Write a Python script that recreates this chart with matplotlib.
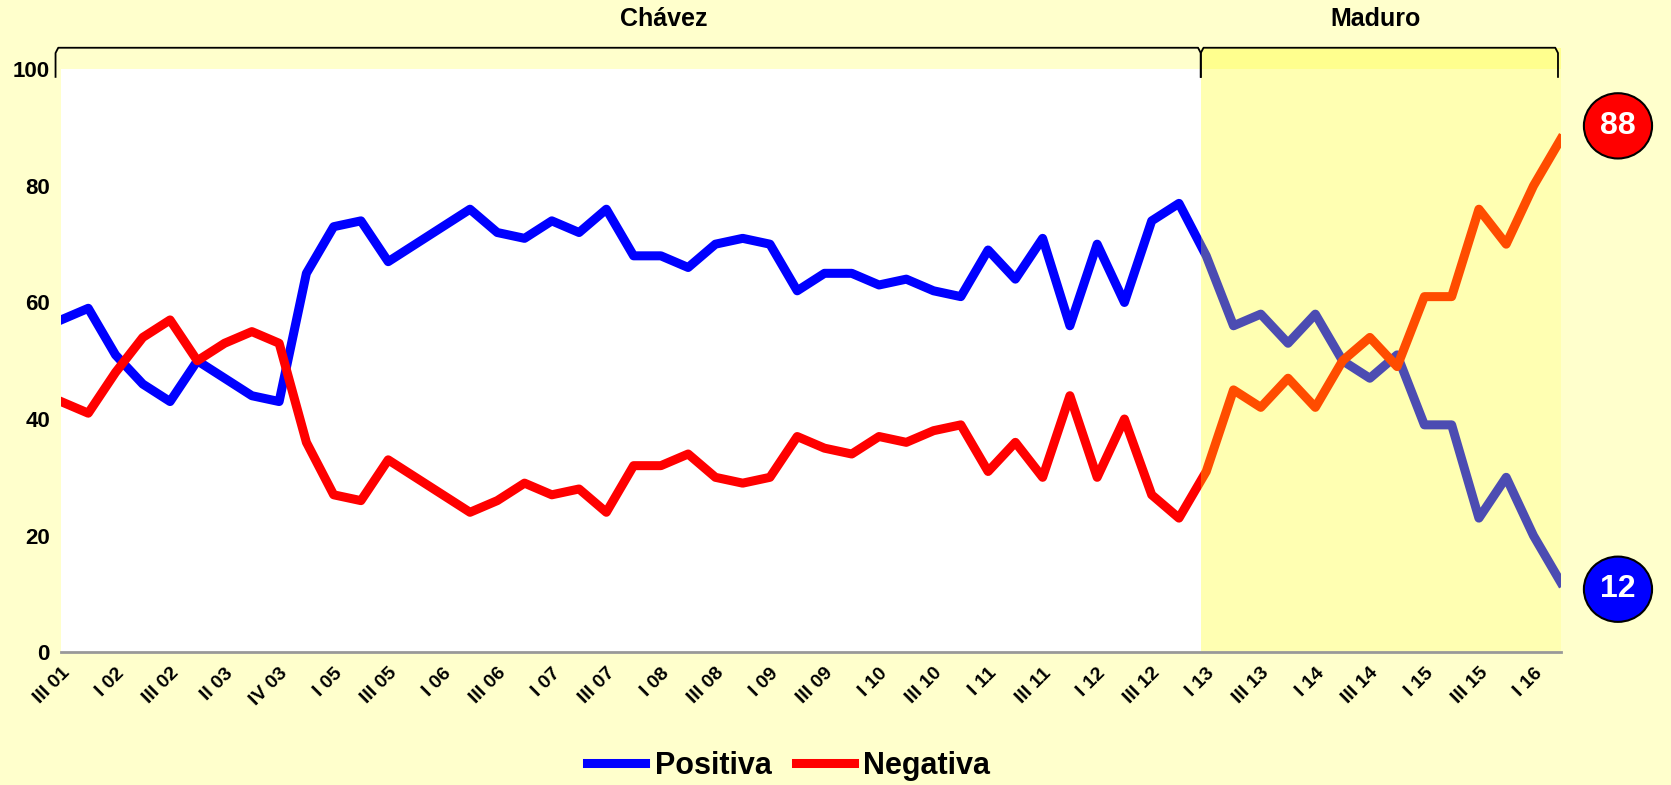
import matplotlib
matplotlib.use("Agg")
import matplotlib.pyplot as plt
from matplotlib.patches import Ellipse

plt.rcParams["font.family"] = ["Liberation Sans", "DejaVu Sans"]
plt.rcParams["font.weight"] = "bold"

# Valoración de la gestión presidencial (%), por trimestre
positiva = [57, 59, 51, 46, 43, 50, 47, 44, 43, 65, 73, 74, 67, 70, 73, 76, 72, 71, 74, 72,
            76, 68, 68, 66, 70, 71, 70, 62, 65, 65, 63, 64, 62, 61, 69, 64, 71, 56, 70, 60,
            74, 77, 68, 56, 58, 53, 58, 50, 47, 51, 39, 39, 23, 30, 20, 12]
negativa = [43, 41, 48, 54, 57, 50, 53, 55, 53, 36, 27, 26, 33, 30, 27, 24, 26, 29, 27, 28,
            24, 32, 32, 34, 30, 29, 30, 37, 35, 34, 37, 36, 38, 39, 31, 36, 30, 44, 30, 40,
            27, 23, 31, 45, 42, 47, 42, 50, 54, 49, 61, 61, 76, 70, 80, 88]
tick_labels = ["III 01", "I 02", "III 02", "II 03", "IV 03", "I 05", "III 05", "I 06",
               "III 06", "I 07", "III 07", "I 08", "III 08", "I 09", "III 09", "I 10",
               "III 10", "I 11", "III 11", "I 12", "III 12", "I 13", "III 13", "I 14",
               "III 14", "I 15", "III 15", "I 16"]
periodos = ["Chávez", "Maduro"]
periodo_inicio = [-0.2, 41.8]
periodo_fin = [41.8, 54.9]
periodo_texto_x = [22.1, 48.2]

x = list(range(len(positiva)))
bg = "#FFFFCC"

fig = plt.figure(figsize=(16.71, 7.85), dpi=100, facecolor=bg)
ax = fig.add_axes([0.0365, 0.1692, 0.8975, 0.7425])
ax.set_facecolor("white")

ax.plot(x, positiva, color="#0000FF", lw=6.5, solid_joinstyle="round", zorder=2, label="Positiva")
ax.plot(x, negativa, color="#FF0000", lw=6.5, solid_joinstyle="round", zorder=2, label="Negativa")

# Maduro period shading (drawn over the lines)
ax.axvspan(periodo_inicio[1], x[-1], ymin=0, ymax=1.037, color=(1, 1, 0), alpha=0.3,
           lw=0, zorder=3, clip_on=False)

# brackets and period names
for name, x0, x1, tx in zip(periodos, periodo_inicio, periodo_fin, periodo_texto_x):
    ax.plot([x0, x0, x0 + 0.1, x1 - 0.1, x1, x1], [98.7, 102.8, 103.7, 103.7, 102.8, 98.7],
            color="black", lw=1.3, clip_on=False, zorder=4)
    ax.text(tx, 108.6, name, ha="center", va="center", fontsize=18,
            fontweight="bold", clip_on=False)

ax.set_xlim(0, x[-1])
ax.set_ylim(0, 100)
ax.set_yticks(range(0, 101, 20))
ax.set_xticks(x[::2])
ax.set_xticklabels(tick_labels, rotation=45, ha="right", rotation_mode="anchor")
ax.tick_params(axis="x", length=0, labelsize=14, pad=9)
ax.tick_params(axis="y", length=0, labelsize=16, pad=8)
for lab in ax.get_yticklabels() + ax.get_xticklabels():
    lab.set_fontweight("bold")

for side in ["top", "right", "left"]:
    ax.spines[side].set_visible(False)
ax.spines["bottom"].set_color("#999999")
ax.spines["bottom"].set_linewidth(2)
ax.spines["bottom"].set_zorder(5)

# end value badges
for val, yy, fc in [(negativa[-1], 90.3, "#FF0000"), (positiva[-1], 10.8, "#0000FF")]:
    ax.add_patch(Ellipse((57.1, yy), 2.5, 11.2, facecolor=fc, edgecolor="black",
                         lw=1.5, clip_on=False, zorder=6))
    ax.text(57.1, yy, str(val), ha="center", va="center", color="white", fontsize=23,
            fontweight="bold", clip_on=False, zorder=7)

fig.legend(loc="lower center", bbox_to_anchor=(0.472, -0.03), ncol=2, frameon=False,
           prop={"size": 22, "weight": "bold"}, handlelength=1.9, columnspacing=0.8,
           handletextpad=0.3)

fig.savefig("out.png", dpi=100, facecolor=bg)
